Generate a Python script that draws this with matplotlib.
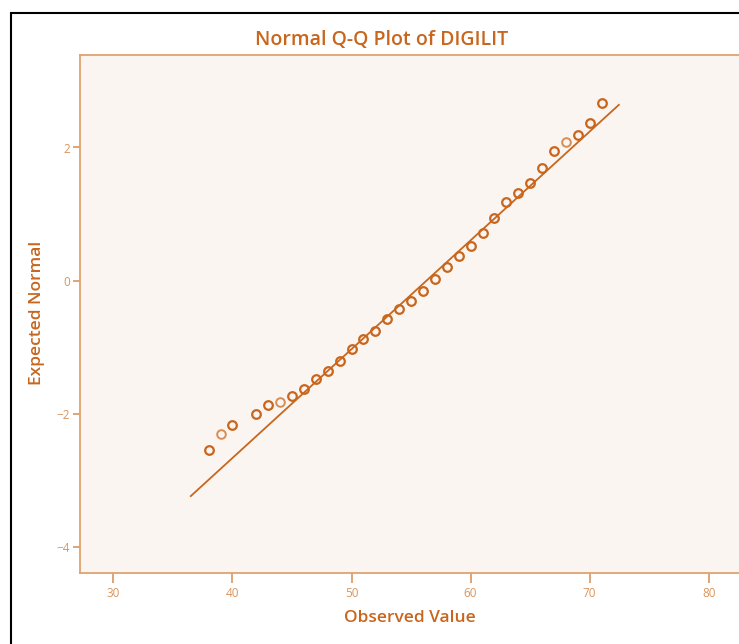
import matplotlib
matplotlib.use("Agg")
import matplotlib.pyplot as plt
from matplotlib.patches import Rectangle

observed = [38, 39, 40, 42, 43, 44, 45, 46, 47, 48, 49, 50, 51, 52, 53, 54, 55,
            56, 57, 58, 59, 60, 61, 62, 63, 64, 65, 66, 67, 68, 69, 70, 71]
expected = [-2.55, -2.30, -2.17, -2.00, -1.87, -1.82, -1.73, -1.62, -1.47, -1.35,
            -1.20, -1.02, -0.88, -0.75, -0.58, -0.43, -0.30, -0.16, 0.02, 0.21,
            0.37, 0.52, 0.71, 0.94, 1.18, 1.31, 1.46, 1.69, 1.94, 2.08, 2.18,
            2.36, 2.66]
# points drawn lighter
light = [39, 44, 68]

# reference line: mean and sd of the variable
line_x = [36.5, 72.45]
mean, sd = 56.3, 6.12

xticks = [30, 40, 50, 60, 70, 80]
yticks = [-4, -2, 0, 2]

orange = "#C8661E"
axis_col = "#E0A36E"
tick_col = "#D9955C"

plt.rcParams['font.family'] = ['Open Sans', 'DejaVu Sans']

fig = plt.figure(figsize=(7.392, 6.442), dpi=100)
ax = fig.add_axes([80 / 739, (644 - 572.7) / 644, 700 / 739, (572.7 - 55) / 644])
ax.set_facecolor("#FBF5F1")

# reference line
line_y = [(v - mean) / sd for v in line_x]
ax.plot(line_x, line_y, color=orange, lw=1.3, zorder=2)

dark_x = [o for o in observed if o not in light]
dark_y = [e for o, e in zip(observed, expected) if o not in light]
lt_x = [o for o in observed if o in light]
lt_y = [e for o, e in zip(observed, expected) if o in light]
ax.plot(dark_x, dark_y, 'o', ms=6.2, mfc='none', mec=orange, mew=1.6, zorder=3)
ax.plot(lt_x, lt_y, 'o', ms=6.2, mfc='none', mec="#D98D52", mew=1.4, zorder=3)

ax.set_xlim(27.2, 86.0)
ax.set_ylim(-4.385, 3.39)
ax.set_xticks(xticks)
ax.set_yticks(yticks)
ax.tick_params(axis='x', colors=tick_col, labelsize=8.5, length=7, width=1.2, pad=3,
               labelcolor=tick_col)
ax.tick_params(axis='y', colors=tick_col, labelsize=8.5, length=5, width=1.2, pad=2,
               labelcolor=tick_col)
for s in ax.spines.values():
    s.set_color(axis_col)
    s.set_linewidth(1.3)

fig.text(381 / 739, 1 - 40 / 644, "Normal Q-Q Plot of DIGILIT", ha='center', va='center',
         fontsize=14, fontweight='semibold', color=orange)
fig.text(410 / 739, 1 - 618 / 644, "Observed Value", ha='center', va='center',
         fontsize=12.5, fontweight='semibold', color=orange)
fig.text(37 / 739, 1 - 313 / 644, "Expected Normal", ha='center', va='center',
         rotation=90, fontsize=12.5, fontweight='semibold', color=orange)

# outer black frame (cut off at right and bottom)
fig.add_artist(Rectangle((11 / 739, -0.1), 1.2, 1.1 - 13 / 644, transform=fig.transFigure,
                         fill=False, edgecolor='black', lw=1.5))

fig.savefig("out.png", dpi=100)
